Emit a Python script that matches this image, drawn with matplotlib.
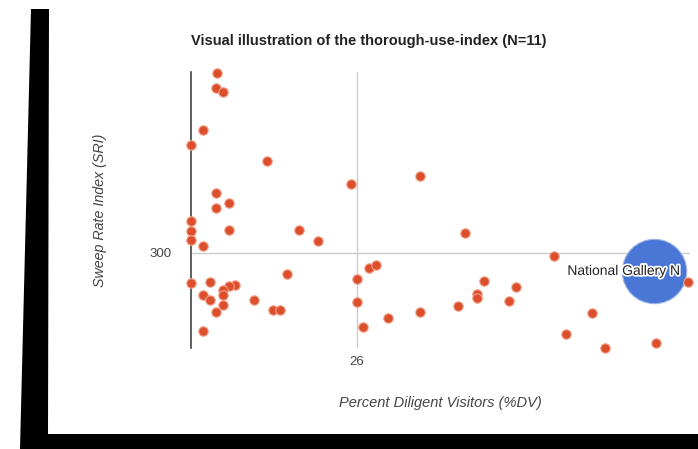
"""
Visual illustration of the thorough-use-index (bubble chart, Google-Charts look)
"""

import matplotlib

matplotlib.use("Agg")
from matplotlib import pyplot as plt
from matplotlib.patches import Polygon
import matplotlib.patheffects as pe

plt.rcParams["font.family"] = ["Liberation Sans", "DejaVu Sans"]

# 数据 (读自图片)
pdv = [4.1, 4.0, 5.0, 2.0, 0.0, 12.0, 35.9, 25.0, 4.0, 6.0, 4.0, 0.0, 0.0, 0.0,
       6.0, 17.0, 19.9, 42.8, 2.0, 56.8, 27.8, 29.0, 15.0, 26.0, 0.0, 3.1, 45.9,
       50.9, 7.0, 6.0, 5.0, 5.0, 2.0, 3.1, 9.9, 44.8, 44.8, 26.0, 49.8, 5.0, 4.0,
       12.9, 13.9, 41.8, 35.9, 30.9, 26.9, 2.0, 62.7, 58.7, 64.8, 72.7, 77.7]
sri = [489, 473, 469, 429, 413, 397, 381, 372, 363, 352, 347, 333, 323, 313,
       324, 324, 312, 321, 307, 297, 284, 287, 278, 273, 268, 269, 270,
       264, 266, 265, 261, 256, 256, 250, 250, 257, 253, 248, 249, 245, 238,
       240, 240, 244, 238, 232, 222, 218, 237, 215, 200, 205, 269]

# 图中标签在图表边缘被截断, 只保留可见部分
highlight_name = "National Gallery N"
highlight_pdv = 72.4
highlight_sri = 281

x_ticks = [26]
y_ticks = [300]

W, H = 698, 449
fig = plt.figure(figsize=(W / 100, H / 100), dpi=100)
fig.patch.set_facecolor("white")

# 照片里的黑色边框
frame = [(31, 9), (49, 9), (48, 434), (698, 434), (698, 449), (20, 449)]
fig.add_artist(
    Polygon(
        [(x / W, 1 - y / H) for x, y in frame],
        closed=True,
        facecolor="black",
        edgecolor="none",
        transform=fig.transFigure,
    )
)

ax = fig.add_axes([190.6 / W, 1 - 348 / H, (690 - 190.6) / W, (348 - 72) / H])
ax.set_xlim(0, 78)
ax.set_ylim(200, 490)

for side in ["top", "right", "bottom"]:
    ax.spines[side].set_visible(False)
ax.spines["left"].set_color("#444444")
ax.spines["left"].set_linewidth(1.2)
ax.spines["left"].set_zorder(1)

ax.set_xticks(x_ticks)
ax.set_yticks(y_ticks)
ax.tick_params(length=0, labelsize=9.5, labelcolor="#444444")
ax.tick_params(axis="x", pad=6)
ax.tick_params(axis="y", pad=14)
ax.grid(True, color="#cccccc", linewidth=1)
ax.set_axisbelow(True)

# 大气泡
ax.scatter(
    [highlight_pdv], [highlight_sri], s=2150, color="#4a76d6",
    edgecolor="#9db4e8", linewidth=0.8, zorder=2, clip_on=False,
)
# 其余小点
ax.scatter(
    pdv, sri, s=46, color="#dc4f2c", edgecolor="#f0a088",
    linewidth=0.8, zorder=3, clip_on=False,
)

ax.annotate(
    highlight_name,
    xy=(highlight_pdv, highlight_sri),
    xytext=(-62.5, 0),
    textcoords="offset points",
    ha="left",
    va="center",
    fontsize=10,
    color="#222222",
    zorder=4,
    path_effects=[pe.withStroke(linewidth=2.5, foreground="white")],
)

ax.text(
    0, (348 - 40.7) / 276, "Visual illustration of the thorough-use-index (N=11)",
    transform=ax.transAxes, ha="left", va="center",
    fontsize=10.5, fontweight="bold", color="#222222",
)
ax.text(
    0.5, (348 - 403) / 276, "Percent Diligent Visitors (%DV)",
    transform=ax.transAxes, ha="center", va="center",
    fontsize=10.5, style="italic", color="#444444",
)
ax.text(
    (100 - 190.6) / 499.4, 0.5, "Sweep Rate Index (SRI)",
    transform=ax.transAxes, ha="center", va="center", rotation=90,
    fontsize=10.3, style="italic", color="#444444",
)

fig.savefig("out.png", dpi=100, facecolor="white")
